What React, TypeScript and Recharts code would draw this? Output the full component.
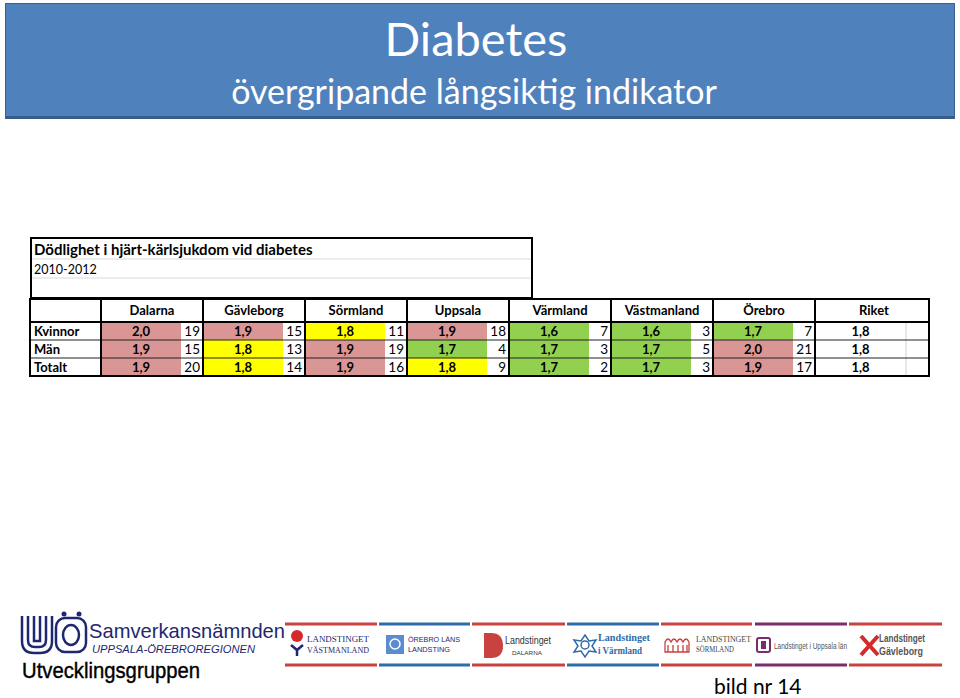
import { ScatterChart, Scatter, XAxis, YAxis } from 'recharts';

const regions = ['Dalarna', 'Gävleborg', 'Sörmland', 'Uppsala', 'Värmland', 'Västmanland', 'Örebro', 'Riket'];
const groups = ['Kvinnor', 'Män', 'Totalt'];

// värde och rangordning (av 21 landsting), Riket saknar rang
const kvinnorValues = [2.0, 1.9, 1.8, 1.9, 1.6, 1.6, 1.7, 1.8];
const manValues = [1.9, 1.8, 1.9, 1.7, 1.7, 1.7, 2.0, 1.8];
const totaltValues = [1.9, 1.8, 1.9, 1.8, 1.7, 1.7, 1.9, 1.8];
const kvinnorRanks = [19, 15, 11, 18, 7, 3, 7, null];
const manRanks = [15, 13, 19, 4, 3, 5, 21, null];
const totaltRanks = [20, 14, 16, 9, 2, 3, 17, null];
const kvinnorLevels = ['sämre', 'sämre', 'mellan', 'sämre', 'bättre', 'bättre', 'bättre', 'riket'];
const manLevels = ['sämre', 'mellan', 'sämre', 'bättre', 'bättre', 'bättre', 'sämre', 'riket'];
const totaltLevels = ['sämre', 'mellan', 'sämre', 'mellan', 'bättre', 'bättre', 'sämre', 'riket'];

const valuesByGroup = [kvinnorValues, manValues, totaltValues];
const ranksByGroup = [kvinnorRanks, manRanks, totaltRanks];
const levelsByGroup = [kvinnorLevels, manLevels, totaltLevels];

const LEVEL_FILL: Record<string, string> = {
  sämre: '#DA9694',
  mellan: '#FFFF00',
  bättre: '#92D050',
  riket: '#FFFFFF',
};

const FONT = 'Lato, "Open Sans", sans-serif';
const W = 960;
const H = 698;
const MARGIN = { top: 299, right: 43, bottom: 322, left: 30 };
const HEADER_H = 23;
const LABEL_W = 71;
const PLOT_LEFT = MARGIN.left + LABEL_W;
const PLOT_TOP = MARGIN.top + HEADER_H;
const UNIT_X = (W - PLOT_LEFT - MARGIN.right) / regions.length;
const UNIT_Y = (H - PLOT_TOP - MARGIN.bottom) / groups.length;
const VALUE_W = 80;
const REF_W = 114;
const REF_VALUE_W = 91;
const TABLE_RIGHT = PLOT_LEFT + UNIT_X * (regions.length - 1) + REF_W;

const cells = groups.flatMap((group, r) =>
  regions.map((region, i) => ({
    x: i + 0.5,
    y: r + 0.5,
    region,
    group,
    value: valuesByGroup[r][i],
    rank: ranksByGroup[r][i],
    level: levelsByGroup[r][i],
  })),
);

const fmt = (v: number) => v.toFixed(1).replace('.', ',');

function TableCell(props: any) {
  const { cx, cy, payload } = props;
  const left = cx - UNIT_X / 2;
  const top = cy - UNIT_Y / 2;
  const isRef = payload.rank == null;
  const valueW = isRef ? REF_VALUE_W : VALUE_W;
  return (
    <g fontFamily={FONT} fontSize={13}>
      <rect x={left} y={top} width={isRef ? REF_W : UNIT_X} height={UNIT_Y} fill="#fff" />
      <rect x={left} y={top} width={valueW} height={UNIT_Y} fill={LEVEL_FILL[payload.level]} />
      <text x={left + valueW / 2} y={cy} dy="0.36em" textAnchor="middle" fontWeight={700} fill="#000">
        {fmt(payload.value)}
      </text>
      {isRef ? (
        <line x1={left + valueW} x2={left + valueW} y1={top} y2={top + UNIT_Y} stroke="#d0d0d0" />
      ) : (
        <text x={left + UNIT_X - 3} y={cy} dy="0.36em" textAnchor="end" fontSize={13.5} fill="#000">
          {payload.rank}
        </text>
      )}
    </g>
  );
}

function RegionTick(props: any) {
  const { x, payload } = props;
  const i = Math.floor(payload.value);
  const isRef = i === regions.length - 1;
  const cx = isRef ? x - UNIT_X / 2 + REF_W / 2 + 2 : x;
  return (
    <text x={cx} y={MARGIN.top + 16} textAnchor="middle" fontFamily={FONT} fontSize={13} fontWeight={700} fill="#000">
      {regions[i]}
    </text>
  );
}

function GroupTick(props: any) {
  const { y, payload } = props;
  return (
    <text x={MARGIN.left + 4} y={y} dy="0.36em" textAnchor="start" fontFamily={FONT} fontSize={13} fontWeight={700} fill="#000">
      {groups[Math.floor(payload.value)]}
    </text>
  );
}

function TableBorders() {
  const blockX = regions.map((_, i) => PLOT_LEFT + i * UNIT_X);
  const rowY = groups.slice(1).map((_, r) => PLOT_TOP + (r + 1) * UNIT_Y);
  const bottom = PLOT_TOP + UNIT_Y * groups.length;
  return (
    <g>
      {/* rubrikruta */}
      <line x1={31} x2={532} y1={259} y2={259} stroke="#d9d9d9" />
      <line x1={31} x2={532} y1={278} y2={278} stroke="#d9d9d9" />
      <rect x={31} y={238} width={501} height={60} fill="none" stroke="#000" strokeWidth={2} />
      <text x={34} y={255} fontFamily={FONT} fontSize={15} fontWeight={700} fill="#000">
        Dödlighet i hjärt-kärlsjukdom vid diabetes
      </text>
      <text x={34} y={274} fontFamily={FONT} fontSize={12.5} fill="#000">
        2010-2012
      </text>
      {rowY.map((y) => (
        <line key={y} x1={MARGIN.left} x2={TABLE_RIGHT} y1={y} y2={y} stroke="#222" strokeWidth={1} />
      ))}
      {blockX.map((x) => (
        <line key={x} x1={x} x2={x} y1={MARGIN.top} y2={bottom} stroke="#000" strokeWidth={2} />
      ))}
      <line x1={MARGIN.left} x2={TABLE_RIGHT} y1={PLOT_TOP} y2={PLOT_TOP} stroke="#000" strokeWidth={2} />
      <rect
        x={MARGIN.left}
        y={MARGIN.top}
        width={TABLE_RIGHT - MARGIN.left}
        height={bottom - MARGIN.top}
        fill="none"
        stroke="#000"
        strokeWidth={2}
      />
    </g>
  );
}

const footerLines = [
  { x1: 285, x2: 377, color: '#C8423F' },
  { x1: 379, x2: 470, color: '#2F6BA8' },
  { x1: 472, x2: 565, color: '#C8423F' },
  { x1: 567, x2: 659, color: '#2F6BA8' },
  { x1: 661, x2: 752, color: '#C8423F' },
  { x1: 755, x2: 847, color: '#7A2D6E' },
  { x1: 849, x2: 942, color: '#C8423F' },
];

function Footer() {
  const navy = '#1E2870';
  const sans = 'Liberation Sans, Arial, sans-serif';
  const serif = 'Liberation Serif, serif';
  return (
    <g>
      {/* UÖ-logga */}
      <g fill="none" stroke={navy} strokeWidth={2.5}>
        <path d="M22 616 V641 Q22 653 34 653 H40 Q52 653 52 641 V616" />
        <path d="M28 616 V640 Q28 647 35 647 H39 Q46 647 46 640 V616" />
        <path d="M34 616 V641 H40 V616" />
        <rect x={56} y={618} width={30} height={34} rx={9} />
        <ellipse cx={71} cy={635} rx={8} ry={10} />
      </g>
      <circle cx={64} cy={614} r={2.5} fill={navy} />
      <circle cx={79} cy={614} r={2.5} fill={navy} />
      <text x={89} y={638} fontFamily={sans} fontSize={21} fill={navy} textLength={196} lengthAdjust="spacingAndGlyphs">
        Samverkansnämnden
      </text>
      <text x={92} y={653} fontFamily={sans} fontSize={10} fontStyle="italic" fill={navy} textLength={163} lengthAdjust="spacingAndGlyphs">
        UPPSALA-ÖREBROREGIONEN
      </text>
      <text x={22} y={678} fontFamily={sans} fontSize={22} fill="#000" stroke="#000" strokeWidth={0.4} textLength={178} lengthAdjust="spacingAndGlyphs">
        Utvecklingsgruppen
      </text>

      {footerLines.map((l) => (
        <g key={l.x1}>
          <line x1={l.x1} x2={l.x2} y1={624} y2={624} stroke={l.color} strokeWidth={3} />
          <line x1={l.x1} x2={l.x2} y1={665} y2={665} stroke={l.color} strokeWidth={3} />
        </g>
      ))}

      {/* Västmanland */}
      <circle cx={297} cy={636} r={6} fill="#D42A2A" />
      <path d="M291 645 L297 650 L303 645 M297 650 V656" stroke={navy} strokeWidth={2.5} fill="none" />
      <text x={307} y={642} fontFamily={serif} fontSize={8} fill={navy} textLength={62} lengthAdjust="spacingAndGlyphs">LANDSTINGET</text>
      <text x={307} y={653} fontFamily={serif} fontSize={8} fill={navy} textLength={62} lengthAdjust="spacingAndGlyphs">VÄSTMANLAND</text>

      {/* Örebro */}
      <rect x={386} y={635} width={18} height={19} fill="#5B8BD0" />
      <circle cx={395} cy={644} r={5} fill="none" stroke="#fff" strokeWidth={1.5} />
      <text x={408} y={642} fontFamily={sans} fontSize={7.5} fill={navy} textLength={52} lengthAdjust="spacingAndGlyphs">ÖREBRO LÄNS</text>
      <text x={408} y={652} fontFamily={sans} fontSize={7.5} fill={navy} textLength={42} lengthAdjust="spacingAndGlyphs">LANDSTING</text>

      {/* Dalarna */}
      <path d="M484 633 H491 Q503 633 503 646 Q503 658 491 658 H484 Z" fill="#C8423F" />
      <text x={505} y={644} fontFamily={sans} fontSize={10} fill="#333" textLength={46} lengthAdjust="spacingAndGlyphs">Landstinget</text>
      <text x={512} y={655} fontFamily={sans} fontSize={6} fill="#333" textLength={30} lengthAdjust="spacingAndGlyphs">DALARNA</text>

      {/* Värmland */}
      <g fill="none" stroke="#2F6BA8" strokeWidth={1.5}>
        <circle cx={585} cy={645} r={4} />
        <path d="M585 635 L589 641 L596 640 L592 646 L596 652 L589 651 L585 657 L581 651 L574 652 L578 646 L574 640 L581 641 Z" />
      </g>
      <text x={598} y={641} fontFamily={serif} fontSize={10} fontWeight={700} fill="#2F6BA8" textLength={52} lengthAdjust="spacingAndGlyphs">Landstinget</text>
      <text x={598} y={654} fontFamily={serif} fontSize={10} fontWeight={700} fill="#2F6BA8" textLength={44} lengthAdjust="spacingAndGlyphs">i Värmland</text>

      {/* Sörmland */}
      <g fill="none" stroke="#C8423F" strokeWidth={1.3}>
        <path d="M665 652 V642 Q668 636 671 642 Q674 636 677 642 Q680 636 683 642 Q686 636 689 642 V652 Z" />
        <path d="M668 652 V645 M673 652 V645 M678 652 V645 M683 652 V645 M687 652 V645" />
      </g>
      <text x={696} y={642} fontFamily={serif} fontSize={7.5} fill="#444" textLength={55} lengthAdjust="spacingAndGlyphs">LANDSTINGET</text>
      <text x={696} y={652} fontFamily={serif} fontSize={7.5} fill="#444" textLength={38} lengthAdjust="spacingAndGlyphs">SÖRMLAND</text>

      {/* Uppsala */}
      <rect x={757} y={638} width={13} height={14} rx={2} fill="none" stroke="#7A2D6E" strokeWidth={2} />
      <rect x={761} y={641} width={5} height={8} fill="#7A2D6E" />
      <text x={774} y={649} fontFamily={sans} fontSize={9} fill="#555" textLength={73} lengthAdjust="spacingAndGlyphs">Landstinget i Uppsala län</text>

      {/* Gävleborg */}
      <path d="M861 636 L878 655 M861 655 L878 636" stroke="#D42A2A" strokeWidth={4} />
      <text x={879} y={642} fontFamily={sans} fontSize={10} fontWeight={700} fill="#555" textLength={46} lengthAdjust="spacingAndGlyphs">Landstinget</text>
      <text x={879} y={655} fontFamily={sans} fontSize={10} fontWeight={700} fill="#555" textLength={44} lengthAdjust="spacingAndGlyphs">Gävleborg</text>

      <text x={714} y={694} fontFamily={FONT} fontSize={21} fill="#000">
        bild nr 14
      </text>
    </g>
  );
}

export default function App() {
  return (
    <div style={{ position: 'absolute', left: 0, top: 0, width: W, height: H, background: '#fff', overflow: 'hidden' }}>
      <div
        style={{
          position: 'absolute',
          left: 5,
          top: 3,
          width: 948,
          height: 112,
          background: '#4F81BD',
          border: '1px solid #3A5F8F',
          borderBottom: '3px solid #385D8A',
        }}
      />
      <svg style={{ position: 'absolute', left: 0, top: 0 }} width={W} height={H}>
        <text x={476} y={56} textAnchor="middle" fontFamily={FONT} fontSize={47} fill="#fff">
          Diabetes
        </text>
        <text x={474} y={104} textAnchor="middle" fontFamily={FONT} fontSize={34} fill="#fff">
          övergripande långsiktig indikator
        </text>
      </svg>
      <div style={{ position: 'absolute', left: 0, top: 0 }}>
        <ScatterChart width={W} height={H} margin={MARGIN}>
          <XAxis
            type="number"
            dataKey="x"
            orientation="top"
            domain={[0, regions.length]}
            ticks={regions.map((_, i) => i + 0.5)}
            interval={0}
            height={HEADER_H}
            axisLine={false}
            tickLine={false}
            tick={<RegionTick />}
          />
          <YAxis
            type="number"
            dataKey="y"
            reversed
            domain={[0, groups.length]}
            ticks={groups.map((_, i) => i + 0.5)}
            interval={0}
            width={LABEL_W}
            axisLine={false}
            tickLine={false}
            tick={<GroupTick />}
          />
          <Scatter data={cells} shape={<TableCell />} isAnimationActive={false} />
        </ScatterChart>
      </div>
      <svg style={{ position: 'absolute', left: 0, top: 0, pointerEvents: 'none' }} width={W} height={H}>
        <TableBorders />
        <Footer />
      </svg>
    </div>
  );
}
